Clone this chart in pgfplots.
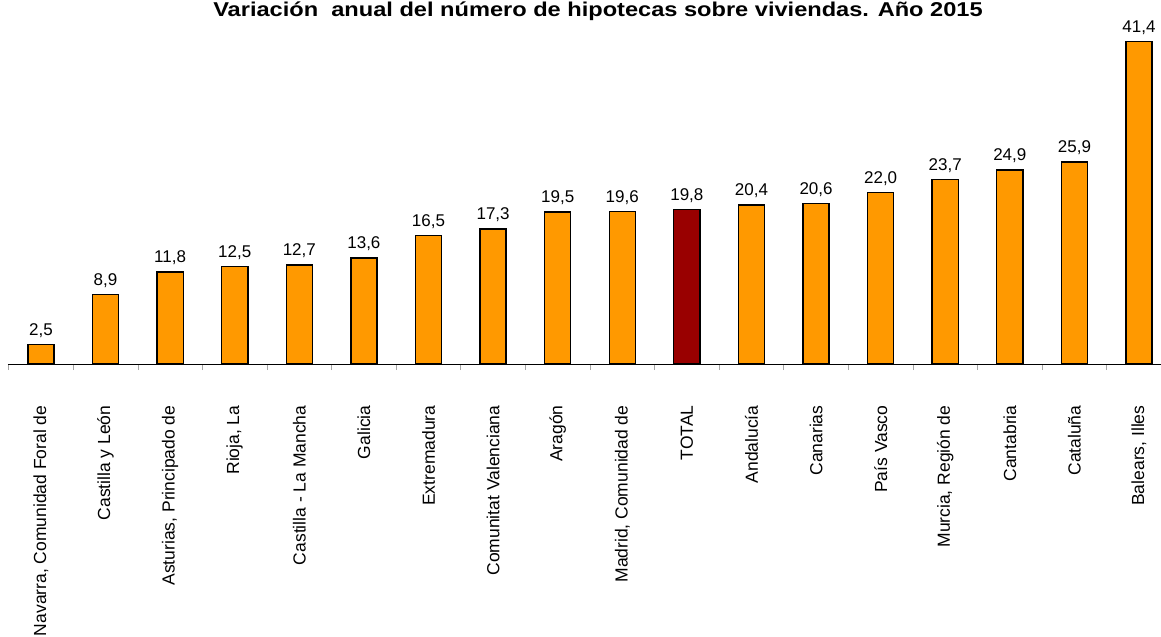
\documentclass[border=0pt]{standalone}
\usepackage{pgfplots}
\pgfplotsset{compat=1.18}
\usepackage{pgfplotstable}
\usepackage{fontspec}
\setmainfont{Liberation Sans}
\definecolor{barorange}{HTML}{FF9900}
\definecolor{bardark}{HTML}{990000}
\pgfplotstableread[col sep=comma]{
x,y,lab
0,2.5,{2,5}
1,8.9,{8,9}
2,11.8,{11,8}
3,12.5,{12,5}
4,12.7,{12,7}
5,13.6,{13,6}
6,16.5,{16,5}
7,17.3,{17,3}
8,19.5,{19,5}
9,19.6,{19,6}
11,20.4,{20,4}
12,20.6,{20,6}
13,22.0,{22,0}
14,23.7,{23,7}
15,24.9,{24,9}
16,25.9,{25,9}
17,41.4,{41,4}
}\regions
\pgfplotstableread[col sep=comma]{
x,y,lab
10,19.8,{19,8}
}\total
\begin{document}
\begin{tikzpicture}[x=1bp,y=1bp]
\useasboundingbox (-8bp,-273bp) rectangle (1153bp,364bp);
\begin{axis}[
  scale only axis,
  width=1153bp, height=364bp,
  xmin=-0.51, xmax=17.34,
  ymin=0, ymax=46.7,
  axis x line*=bottom,
  axis y line=none,
  axis line style={black, line width=0.8bp},
  xtick={0,...,17},
  xticklabels={{Navarra, Comunidad Foral de},{Castilla y León},{Asturias, Principado de},{Rioja, La},{Castilla - La Mancha},{Galicia},{Extremadura},{Comunitat Valenciana},{Aragón},{Madrid, Comunidad de},{TOTAL},{Andalucía},{Canarias},{País Vasco},{Murcia, Región de},{Cantabria},{Cataluña},{Balears, Illes}},
  major tick length=0pt,
  minor xtick={-0.5,0.5,...,16.5},
  minor tick length=6bp,
  tick align=outside,
  minor tick style={gray!70, line width=0.6bp},
  xticklabel style={rotate=90, anchor=east, font=\fontsize{17.5bp}{19bp}\selectfont},
  xticklabel shift=38bp,
  ybar, bar width=0.405, bar shift=0pt,
  clip=false,
  point meta=explicit symbolic,
  nodes near coords,
  nodes near coords style={font=\fontsize{17bp}{19bp}\selectfont, black, yshift=3bp},
]
\addplot[fill=barorange, draw=black, line width=1.4bp] table[x=x, y=y, meta=lab]{\regions};
\addplot[fill=bardark, draw=black, line width=1.4bp] table[x=x, y=y, meta=lab]{\total};
\end{axis}
\node[font=\fontsize{20bp}{22bp}\selectfont\bfseries, anchor=center, xscale=1.18] at (590bp,352.5bp) {Variación\ \ anual del número de hipotecas sobre viviendas. Año 2015};
\end{tikzpicture}
\end{document}
